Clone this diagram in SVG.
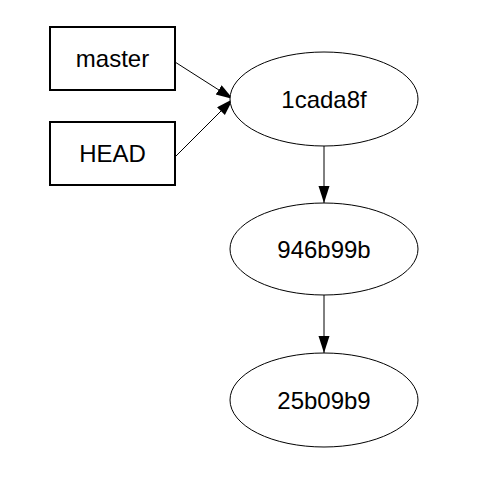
<svg xmlns="http://www.w3.org/2000/svg" width="480" height="480" viewBox="0 0 480 480">
<style>
.box{fill:#fff;stroke:#000;stroke-width:2}
.ell{fill:#fff;stroke:#000;stroke-width:1}
.lbl{font-family:"Liberation Sans",Arial,sans-serif;font-size:24px;fill:#000;text-anchor:middle}
.edge{stroke:#000;stroke-width:1;fill:none;marker-end:url(#ah)}
</style>
<defs>
<marker id="ah" markerUnits="userSpaceOnUse" markerWidth="18" markerHeight="12" refX="17" refY="5.5" orient="auto">
<path d="M0,0 L17,5.5 L0,11 Z" fill="#000"/>
</marker>
</defs>
<rect width="480" height="480" fill="#fff"/>
<g id="connectors">
<line class="edge" x1="175" y1="62" x2="233" y2="99"/>
<line class="edge" x1="175" y1="157" x2="233" y2="99"/>
<line class="edge" x1="324" y1="146" x2="324" y2="203"/>
<line class="edge" x1="324" y1="295" x2="324" y2="353"/>
</g>
<g id="master">
<rect class="box" x="50" y="27" width="125" height="63"/>
<text class="lbl" x="112.5" y="67">master</text>
</g>
<g id="HEAD">
<rect class="box" x="50" y="122" width="125" height="63"/>
<text class="lbl" x="112.5" y="162">HEAD</text>
</g>
<g id="c1cada8f">
<ellipse class="ell" cx="324" cy="99" rx="94" ry="47"/>
<text class="lbl" x="324" y="107.5">1cada8f</text>
</g>
<g id="c946b99b">
<ellipse class="ell" cx="324" cy="249" rx="94" ry="46"/>
<text class="lbl" x="324" y="257.5">946b99b</text>
</g>
<g id="c25b09b9">
<ellipse class="ell" cx="324" cy="400" rx="94" ry="47"/>
<text class="lbl" x="324" y="408.5">25b09b9</text>
</g>
</svg>
